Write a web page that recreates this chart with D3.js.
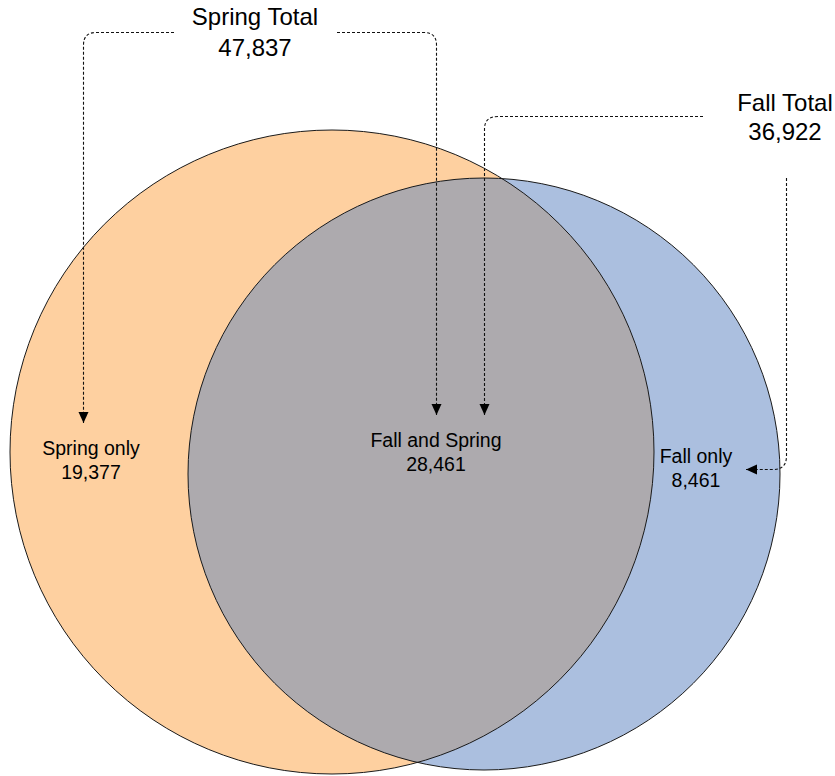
<!DOCTYPE html>
<html><head><meta charset="utf-8">
<script src="https://cdn.jsdelivr.net/npm/d3@7"></script>
<style>html,body{margin:0;padding:0;background:#fff;}svg{display:block;font-family:Arial,"Liberation Sans",sans-serif;}</style>
</head><body><svg id="c" width="835" height="776"></svg>
<script>
// Data
const regionLabels = ["Spring only", "Fall and Spring", "Fall only"];
const regionValues = [19377, 28461, 8461];
const totalLabels = ["Spring Total", "Fall Total"];
const totalValues = [47837, 36922];
const setNames = ["Spring", "Fall"];

const fmt = d3.format(",");
const svg = d3.select("#c");

// Layout (pixel geometry)
const circles = [
  {name: setNames[0], cx: 332, cy: 452, r: 322, fill: "#FED0A0"},
  {name: setNames[1], cx: 484, cy: 474, r: 296, fill: "#ABBFDF"}
];
const overlapFill = "#ADAAAE";

const defs = svg.append("defs");
defs.append("clipPath").attr("id", "clipSpring")
  .append("circle").attr("cx", circles[0].cx).attr("cy", circles[0].cy).attr("r", circles[0].r);
defs.append("marker").attr("id", "arr")
  .attr("viewBox", "0 0 11 11").attr("refX", 11).attr("refY", 5.5)
  .attr("markerWidth", 11).attr("markerHeight", 11)
  .attr("markerUnits", "userSpaceOnUse").attr("orient", "auto")
  .append("path").attr("d", "M0,0.5 L11,5.5 L0,10.5 Z").attr("fill", "#000");

// Circles
svg.selectAll("circle.set").data(circles).join("circle").attr("class", "set")
  .attr("cx", d => d.cx).attr("cy", d => d.cy).attr("r", d => d.r)
  .attr("fill", d => d.fill);
svg.append("circle")
  .attr("cx", circles[1].cx).attr("cy", circles[1].cy).attr("r", circles[1].r)
  .attr("fill", overlapFill).attr("clip-path", "url(#clipSpring)");
svg.selectAll("circle.outline").data(circles).join("circle").attr("class", "outline")
  .attr("cx", d => d.cx).attr("cy", d => d.cy).attr("r", d => d.r)
  .attr("fill", "none").attr("stroke", "#1a1a1a").attr("stroke-width", 1);

// Connectors
const conn = [
  "M174,32.5 H96 Q83.5,32.5 83.5,45 V423",
  "M337,32.5 H424 Q436.5,32.5 436.5,45 V415",
  "M703,116.5 H498 Q484.5,116.5 484.5,129 V415",
  "M786.5,178 V456 Q786.5,469.5 773,469.5 H746"
];
svg.selectAll("path.conn").data(conn).join("path").attr("class", "conn")
  .attr("d", d => d).attr("fill", "none").attr("stroke", "#111")
  .attr("stroke-width", 1.1).attr("stroke-dasharray", "3,2")
  .attr("marker-end", "url(#arr)");

// Region labels
const regionPos = [
  {x: 91, y1: 455, y2: 479},
  {x: 436, y1: 447, y2: 471},
  {x: 696, y1: 463, y2: 487}
];
regionLabels.forEach((lab, i) => {
  const p = regionPos[i];
  const t = svg.append("text").attr("text-anchor", "middle").attr("font-size", 19.5).attr("fill", "#000");
  t.append("tspan").attr("x", p.x).attr("y", p.y1).text(lab);
  t.append("tspan").attr("x", p.x).attr("y", p.y2).text(fmt(regionValues[i]));
});

// Total labels
const totalPos = [
  {x: 255, y1: 25, y2: 56},
  {x: 785, y1: 111, y2: 140}
];
totalLabels.forEach((lab, i) => {
  const p = totalPos[i];
  const t = svg.append("text").attr("text-anchor", "middle").attr("font-size", 24).attr("fill", "#000");
  t.append("tspan").attr("x", p.x).attr("y", p.y1).text(lab);
  t.append("tspan").attr("x", p.x).attr("y", p.y2).text(fmt(totalValues[i]));
});
</script></body></html>
